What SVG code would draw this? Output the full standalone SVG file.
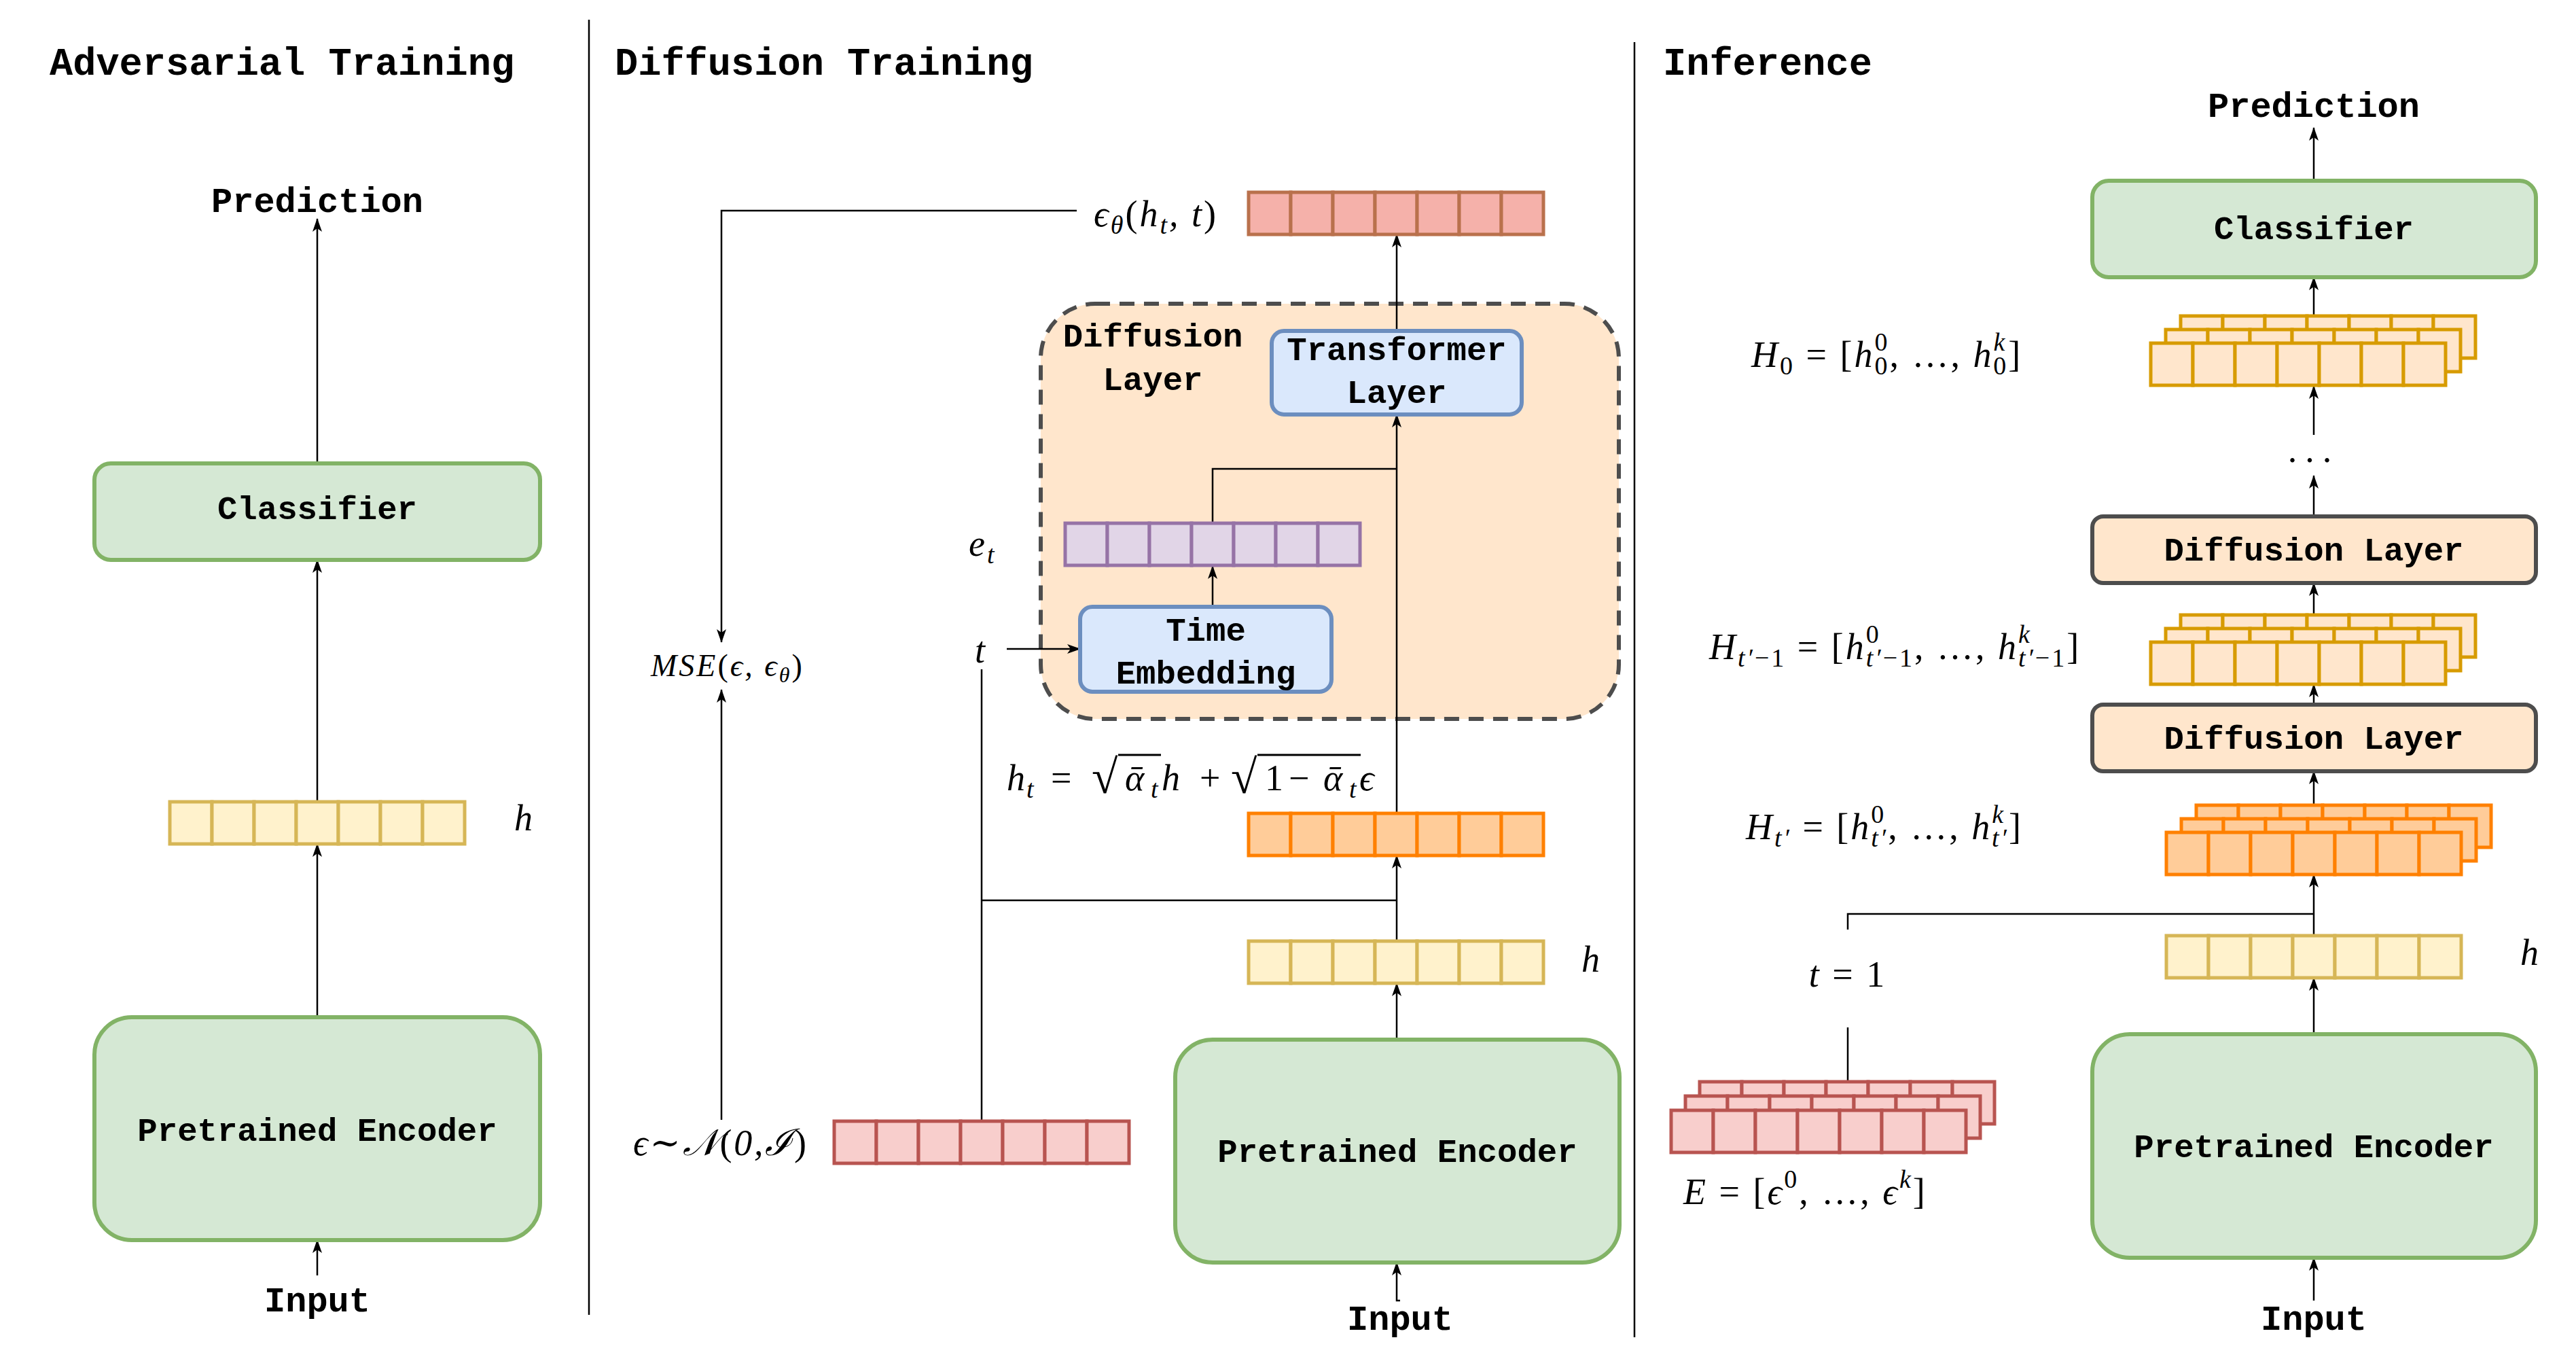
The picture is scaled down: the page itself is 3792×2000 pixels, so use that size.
<svg xmlns="http://www.w3.org/2000/svg" xmlns:xlink="http://www.w3.org/1999/xlink" width="3792" height="2000" viewBox="0 0 3792 2000">
<style>
.title{font-family:"Liberation Mono","Courier New",monospace;font-weight:bold;font-size:57px;fill:#000}
.lbl{font-family:"Liberation Mono","Courier New",monospace;font-weight:bold;font-size:49px;fill:#000;text-anchor:middle}
.io{font-family:"Liberation Mono","Courier New",monospace;font-weight:bold;font-size:52px;fill:#000;text-anchor:middle}
.m{font-family:"Liberation Serif","DejaVu Serif",serif;font-style:italic;font-size:54px;fill:#000;letter-spacing:3px}
.s{font-size:38px}
.n{font-style:normal}
.mid{text-anchor:middle}
.green{fill:#d5e8d4;stroke:#82b366;stroke-width:6}
.blue{fill:#dae8fc;stroke:#6c8ebf;stroke-width:6}
.dl{fill:#ffe6cc;stroke:#4d4d4d;stroke-width:6}
.cont{fill:#ffe6cc;stroke:#4d4d4d;stroke-width:6;stroke-dasharray:22 14}
.vy{fill:#fff2cc;stroke:#d6b656;stroke-width:5}
.vo{fill:#ffcc99;stroke:#ff8000;stroke-width:5}
.vr{fill:#f8cecc;stroke:#b85450;stroke-width:5}
.vs{fill:#f5b1aa;stroke:#b9714c;stroke-width:5}
.vp{fill:#e1d5e7;stroke:#9673a6;stroke-width:5}
.vh{fill:#ffe6cc;stroke:#d79b00;stroke-width:5}
.ln{fill:none;stroke:#000;stroke-width:2.5}
.ar{fill:none;stroke:#000;stroke-width:2.5;marker-end:url(#arr)}
.sep{fill:none;stroke:#000;stroke-width:2.5}
.rad{font-style:normal;font-size:70px}
</style>
<defs>
<marker id="arr" markerUnits="userSpaceOnUse" viewBox="0 0 20 14" markerWidth="20" markerHeight="14" refX="19" refY="7" orient="auto">
<path d="M0,0 L20,7 L0,14 L5,7 Z" fill="#000"/>
</marker>
<g id="v7">
<rect x="0" y="0" width="62" height="62"/><rect x="62" y="0" width="62" height="62"/><rect x="124" y="0" width="62" height="62"/><rect x="186" y="0" width="62" height="62"/><rect x="248" y="0" width="62" height="62"/><rect x="310" y="0" width="62" height="62"/><rect x="372" y="0" width="62" height="62"/>
</g>
</defs>
<rect x="0" y="0" width="3792" height="2000" fill="#fff"/>

<g id="separators">
<line class="sep" x1="867" y1="29" x2="867" y2="1935"/>
<line class="sep" x1="2406" y1="62" x2="2406" y2="1968"/>
</g>

<g id="titles">
<text class="title" x="73" y="110">Adversarial Training</text>
<text class="title" x="905" y="110">Diffusion Training</text>
<text class="title" x="2448" y="110">Inference</text>
</g>

<g id="diffusion-layer-container">
<rect class="cont" x="1532" y="447" width="851" height="611" rx="80"/>
<text class="lbl" x="1697" y="510">Diffusion</text>
<text class="lbl" x="1697" y="574">Layer</text>
</g>

<g id="connectors">
<line class="ar" x1="467" y1="680" x2="467" y2="322"/>
<line class="ar" x1="467" y1="1180" x2="467" y2="824"/>
<line class="ar" x1="467" y1="1497" x2="467" y2="1242"/>
<line class="ar" x1="467" y1="1877" x2="467" y2="1825"/>
<polyline class="ar" points="1585,310 1062,310 1062,945"/>
<line class="ar" x1="1062" y1="1648" x2="1062" y2="1015"/>
<line class="ln" x1="1445" y1="1650" x2="1445" y2="985"/>
<line class="ln" x1="1445" y1="1325" x2="2056" y2="1325"/>
<line class="ar" x1="1482" y1="955" x2="1590" y2="955"/>
<line class="ar" x1="1785" y1="893" x2="1785" y2="833"/>
<polyline class="ln" points="1785,770 1785,690 2056,690"/>
<line class="ar" x1="2056" y1="1197" x2="2056" y2="610"/>
<line class="ar" x1="2056" y1="487" x2="2056" y2="345"/>
<line class="ar" x1="2056" y1="1385" x2="2056" y2="1259"/>
<line class="ar" x1="2056" y1="1530" x2="2056" y2="1447"/>
<polyline class="ar" points="2061,1914 2056,1914 2056,1858"/>
<line class="ar" x1="3406" y1="266" x2="3406" y2="188"/>
<line class="ar" x1="3406" y1="465" x2="3406" y2="408"/>
<line class="ar" x1="3406" y1="640" x2="3406" y2="568"/>
<line class="ar" x1="3406" y1="760" x2="3406" y2="700"/>
<line class="ar" x1="3406" y1="905" x2="3406" y2="858"/>
<line class="ar" x1="3406" y1="1037" x2="3406" y2="1007"/>
<line class="ar" x1="3406" y1="1185" x2="3406" y2="1135"/>
<line class="ar" x1="3406" y1="1377" x2="3406" y2="1287"/>
<polyline class="ln" points="2720,1368 2720,1345 3406,1345"/>
<line class="ln" x1="2720" y1="1512" x2="2720" y2="1592"/>
<line class="ar" x1="3406" y1="1522" x2="3406" y2="1439"/>
<line class="ar" x1="3406" y1="1914" x2="3406" y2="1851"/>
</g>

<g id="adv-prediction"><text class="io" x="467" y="312">Prediction</text></g>
<g id="adv-classifier"><rect class="green" x="139" y="682" width="656" height="142" rx="24"/><text class="lbl" x="467" y="764">Classifier</text></g>
<g id="adv-h"><use xlink:href="#v7" class="vy" x="250" y="1180"/><text class="m" x="757" y="1222">h</text></g>
<g id="adv-encoder"><rect class="green" x="139" y="1497" width="656" height="328" rx="55"/><text class="lbl" x="467" y="1679">Pretrained Encoder</text></g>
<g id="adv-input"><text class="io" x="467" y="1930">Input</text></g>

<g id="dt-eps-theta"><use xlink:href="#v7" class="vs" x="1838" y="283"/><text class="m" x="1610" y="333">ϵ<tspan class="s" dy="11">θ</tspan><tspan class="n" dy="-11">(</tspan>h<tspan class="s" dy="11">t</tspan><tspan dy="-11">, t</tspan><tspan class="n">)</tspan></text></g>
<g id="dt-mse"><text class="m" x="958" y="995" style="font-size:46px">MSE<tspan class="n">(</tspan>ϵ, ϵ<tspan dy="9" style="font-size:32px">θ</tspan><tspan class="n" dy="-9">)</tspan></text></g>
<g id="dt-noise"><use xlink:href="#v7" class="vr" x="1228" y="1650"/><text class="m" x="932" y="1700" textLength="258" lengthAdjust="spacing">ϵ<tspan class="n">∼</tspan>𝒩<tspan class="n">(</tspan>0,ℐ<tspan class="n">)</tspan></text></g>
<g id="dt-t"><text class="m mid" x="1444" y="975">t</text></g>
<g id="dt-et"><use xlink:href="#v7" class="vp" x="1568" y="770"/><text class="m" x="1426" y="818">e<tspan class="s" dy="11">t</tspan></text></g>
<g id="dt-time-embedding"><rect class="blue" x="1590" y="893" width="370" height="125" rx="18"/><text class="lbl" x="1775" y="943">Time</text><text class="lbl" x="1775" y="1006">Embedding</text></g>
<g id="dt-transformer"><rect class="blue" x="1872" y="487" width="368" height="123" rx="18"/><text class="lbl" x="2056" y="530">Transformer</text><text class="lbl" x="2056" y="593">Layer</text></g>
<g id="dt-ht"><use xlink:href="#v7" class="vo" x="1838" y="1197"/>
<text class="m" y="1163" style="letter-spacing:0"><tspan x="1482">h</tspan><tspan class="s" x="1511" dy="11">t</tspan><tspan class="n" x="1547" dy="-11">=</tspan><tspan class="rad" x="1607" dy="4">√</tspan><tspan x="1656" dy="-4">ᾱ</tspan><tspan class="s" x="1694" dy="11">t</tspan><tspan x="1710" dy="-11">h</tspan><tspan class="n" x="1766">+</tspan><tspan class="rad" x="1812" dy="4">√</tspan><tspan class="n" x="1862" dy="-4">1</tspan><tspan class="n" x="1897">−</tspan><tspan x="1948">ᾱ</tspan><tspan class="s" x="1986" dy="11">t</tspan><tspan x="2001" dy="-11">ϵ</tspan></text>
<line x1="1646" y1="1111" x2="1709" y2="1111" stroke="#000" stroke-width="3"/>
<line x1="1851" y1="1111" x2="2003" y2="1111" stroke="#000" stroke-width="3"/>
</g>
<g id="dt-h"><use xlink:href="#v7" class="vy" x="1838" y="1385"/><text class="m" x="2328" y="1430">h</text></g>
<g id="dt-encoder"><rect class="green" x="1730" y="1530" width="654" height="328" rx="55"/><text class="lbl" x="2057" y="1710">Pretrained Encoder</text></g>
<g id="dt-input"><text class="io" x="2061" y="1957">Input</text></g>

<g id="inf-prediction"><text class="io" x="3406" y="172">Prediction</text></g>
<g id="inf-classifier"><rect class="green" x="3080" y="266" width="653" height="142" rx="24"/><text class="lbl" x="3406" y="352">Classifier</text></g>
<g id="inf-H0"><use xlink:href="#v7" class="vh" x="3210" y="465"/><use xlink:href="#v7" class="vh" x="3188" y="485"/><use xlink:href="#v7" class="vh" x="3166" y="505"/>
<text class="m" x="2578" y="540">H<tspan class="s n" dy="11">0</tspan><tspan class="n" dy="-11"> = [</tspan>h<tspan class="s n" dy="-24">0</tspan><tspan class="s n" dx="-22" dy="35">0</tspan><tspan class="n" dy="-11">, …, </tspan>h<tspan class="s" dy="-24">k</tspan><tspan class="s n" dx="-20" dy="35">0</tspan><tspan class="n" dy="-11">]</tspan></text></g>
<g id="inf-dots"><text class="m mid n" x="3406" y="680" style="letter-spacing:12px">...</text></g>
<g id="inf-dl1"><rect class="dl" x="3080" y="760" width="653" height="98" rx="16"/><text class="lbl" x="3406" y="825">Diffusion Layer</text></g>
<g id="inf-Ht1"><use xlink:href="#v7" class="vh" x="3210" y="905"/><use xlink:href="#v7" class="vh" x="3188" y="925"/><use xlink:href="#v7" class="vh" x="3166" y="945"/>
<text class="m" x="2516" y="970">H<tspan class="s" dy="11">t′<tspan class="n">−1</tspan></tspan><tspan class="n" dy="-11"> = [</tspan>h<tspan class="s n" dy="-24">0</tspan><tspan class="s" dx="-22" dy="35">t′<tspan class="n">−1</tspan></tspan><tspan class="n" dy="-11">, …, </tspan>h<tspan class="s" dy="-24">k</tspan><tspan class="s" dx="-20" dy="35">t′<tspan class="n">−1</tspan></tspan><tspan class="n" dy="-11">]</tspan></text></g>
<g id="inf-dl2"><rect class="dl" x="3080" y="1037" width="653" height="98" rx="16"/><text class="lbl" x="3406" y="1102">Diffusion Layer</text></g>
<g id="inf-Ht"><use xlink:href="#v7" class="vo" x="3233" y="1185"/><use xlink:href="#v7" class="vo" x="3211" y="1205"/><use xlink:href="#v7" class="vo" x="3189" y="1225"/>
<text class="m" x="2570" y="1235">H<tspan class="s" dy="11">t′</tspan><tspan class="n" dy="-11"> = [</tspan>h<tspan class="s n" dy="-24">0</tspan><tspan class="s" dx="-22" dy="35">t′</tspan><tspan class="n" dy="-11">, …, </tspan>h<tspan class="s" dy="-24">k</tspan><tspan class="s" dx="-20" dy="35">t′</tspan><tspan class="n" dy="-11">]</tspan></text></g>
<g id="inf-t1"><text class="m mid" x="2720" y="1452">t <tspan class="n">= 1</tspan></text></g>
<g id="inf-E"><use xlink:href="#v7" class="vr" x="2502" y="1592"/><use xlink:href="#v7" class="vr" x="2481" y="1613"/><use xlink:href="#v7" class="vr" x="2460" y="1634"/>
<text class="m" x="2478" y="1772">E <tspan class="n">= [</tspan>ϵ<tspan class="s n" dy="-24">0</tspan><tspan class="n" dy="24">, …, </tspan>ϵ<tspan class="s" dy="-24">k</tspan><tspan class="n" dy="24">]</tspan></text></g>
<g id="inf-h"><use xlink:href="#v7" class="vy" x="3189" y="1377"/><text class="m" x="3710" y="1420">h</text></g>
<g id="inf-encoder"><rect class="green" x="3080" y="1522" width="653" height="329" rx="55"/><text class="lbl" x="3406" y="1703">Pretrained Encoder</text></g>
<g id="inf-input"><text class="io" x="3406" y="1957">Input</text></g>
</svg>
